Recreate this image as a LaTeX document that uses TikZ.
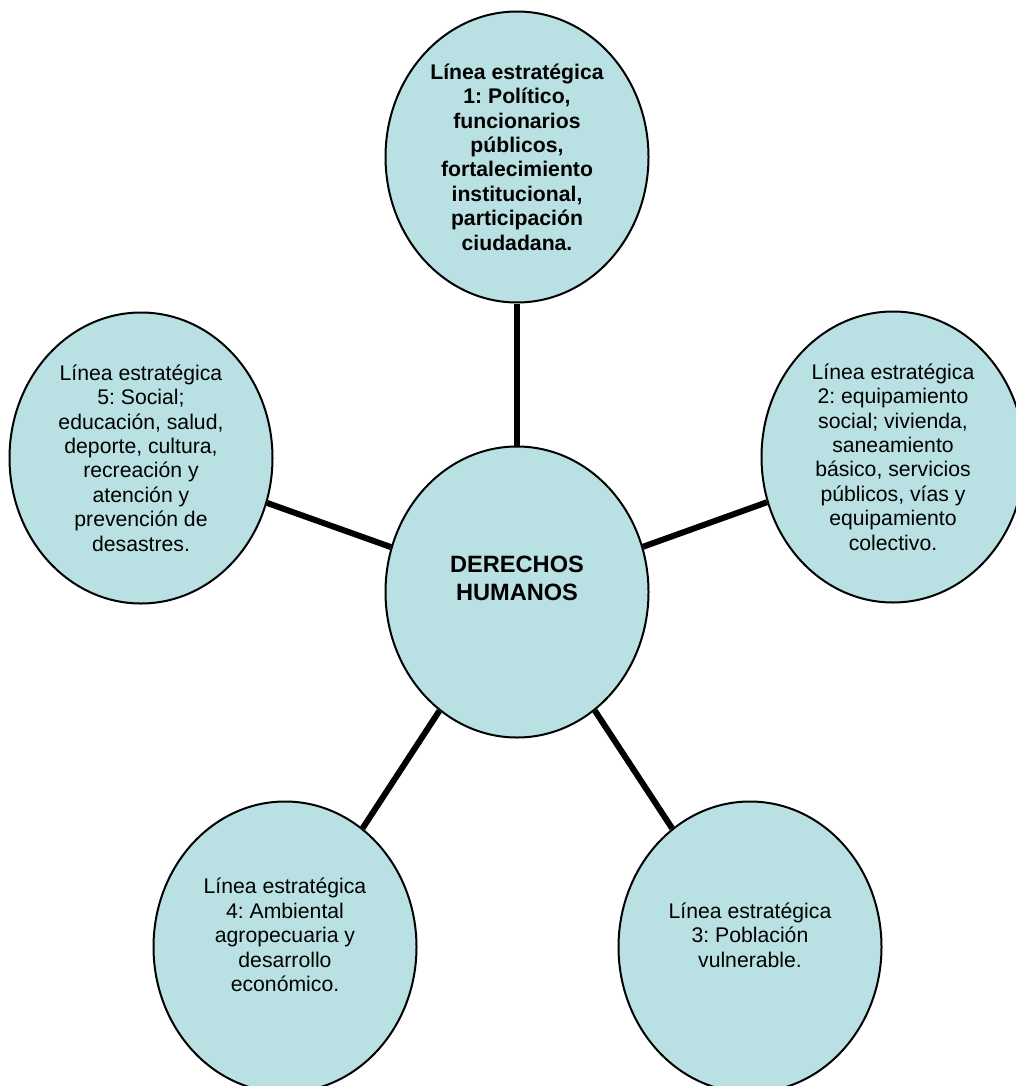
\documentclass[tikz,border=0pt]{standalone}
\usepackage{fontspec}
\setmainfont{Liberation Sans}
\frenchspacing
\usetikzlibrary{shapes.geometric}
\definecolor{celeste}{RGB}{185,224,227}

\begin{document}
\begin{tikzpicture}[x=0.5pt, y=-0.5pt,
    linea/.style={ellipse, draw, line width=1pt, fill=celeste, minimum width=131.5pt, minimum height=145.5pt, inner sep=0pt, align=center, font=\fontsize{10.6}{12.2}\selectfont},
    rama/.style={line width=3pt}]
  \useasboundingbox (0,0) rectangle (1016,1086);
  \node[linea, font=\fontsize{11.8}{14}\selectfont\bfseries] (ddhh) at (517,592) {DERECHOS\\HUMANOS\\~};
  \node[linea, font=\fontsize{10.6}{12.2}\selectfont\bfseries] (linea1) at (517,157) {Línea estratégica\\1: Político,\\funcionarios\\públicos,\\fortalecimiento\\institucional,\\participación\\ciudadana.};
  \node[linea] (linea2) at (893,457) {Línea estratégica\\2: equipamiento\\social; vivienda,\\saneamiento\\básico, servicios\\públicos, vías y\\equipamiento\\colectivo.};
  \node[linea] (linea3) at (750,947) {Línea estratégica\\3: Población\\vulnerable.\\~};
  \node[linea] (linea4) at (285,947) {Línea estratégica\\4: Ambiental\\agropecuaria y\\desarrollo\\económico.\\~};
  \node[linea] (linea5) at (141,458) {Línea estratégica\\5: Social;\\educación, salud,\\deporte, cultura,\\recreación y\\atención y\\prevención de\\desastres.};
  \draw[rama] (ddhh) -- (linea1);
  \draw[rama] (ddhh) -- (linea2);
  \draw[rama] (ddhh) -- (linea3);
  \draw[rama] (ddhh) -- (linea4);
  \draw[rama] (ddhh) -- (linea5);
\end{tikzpicture}
\end{document}
